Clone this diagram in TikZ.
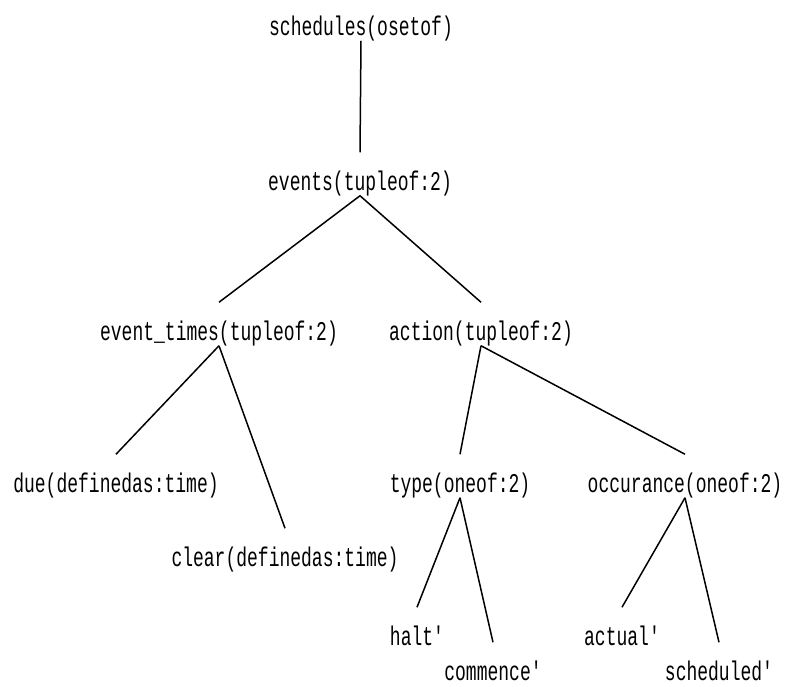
\documentclass[tikz,border=0pt]{standalone}
\usepackage{fontspec}
\usepackage{tikz}
\newfontfamily\termfont{Liberation Mono}[FakeStretch=0.667]

\begin{document}
\begin{tikzpicture}[x=1pt,y=-1pt,
  every node/.style={font=\termfont\fontsize{27}{27}\selectfont,inner sep=0pt,
    anchor=base,text height=17pt,text depth=5pt},
  every path/.style={line width=1.5pt}]
\useasboundingbox (0,0) rectangle (785,686);

\node (51) at (361,35) {schedules(osetof)};

\node (41) at (360,190) {events(tupleof:2)};

\node (31) at (219,340) {event\_times(tupleof:2)};
\node (32) at (481,340) {action(tupleof:2)};

\node (21) at (116,492) {due(definedas:time)};
\node (22) at (285,566) {clear(definedas:time)};
\node (23) at (460,492) {type(oneof:2)};
\node (24) at (685,492) {occurance(oneof:2)};

\node (11) at (417,645) {halt'};
\node (12) at (493,680) {commence'};
\node (13) at (622,645) {actual'};
\node (14) at (719,680) {scheduled'};

\draw (51.south) -- ([yshift=20pt]41.north);
\draw (41.south) -- ([yshift=20pt]31.north);
\draw (41.south) -- ([yshift=20pt]32.north);
\draw (31.south) -- ([yshift=20pt]21.north);
\draw (31.south) -- ([yshift=20pt]22.north);
\draw (32.south) -- ([yshift=20pt]23.north);
\draw (32.south) -- ([yshift=20pt]24.north);
\draw (23.south) -- ([yshift=20pt]11.north);
\draw (23.south) -- ([yshift=20pt]12.north);
\draw (24.south) -- ([yshift=20pt]13.north);
\draw (24.south) -- ([yshift=20pt]14.north);
\end{tikzpicture}
\end{document}
